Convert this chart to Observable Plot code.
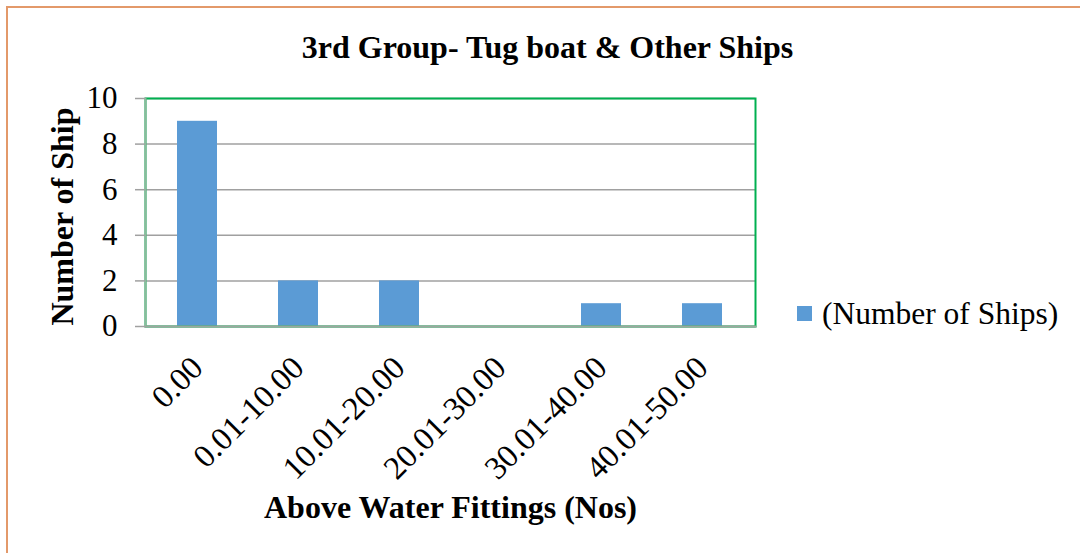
<!DOCTYPE html>
<html>
<head>
<meta charset="utf-8">
<script src="https://cdn.jsdelivr.net/npm/d3@7"></script>
<script src="https://cdn.jsdelivr.net/npm/@observablehq/plot@0.6"></script>
<style>
  html, body { margin: 0; padding: 0; background: #fff; }
  #wrap { position: relative; width: 1080px; height: 553px; overflow: hidden; font-family: "Liberation Serif", "Times New Roman", serif; }
  #border { position: absolute; left: 6px; top: 6px; width: 1200px; height: 700px; border: 2px solid #E3996A; box-sizing: border-box; }
  #chart { position: absolute; left: 0; top: 0; }
  #legend { position: absolute; left: 797px; top: 293px; height: 41px; display: flex; align-items: center; font-size: 31.5px; color: #000; white-space: nowrap; }
  #legend .sw { width: 15px; height: 15px; background: #5B9BD5; margin-right: 10px; }
</style>
</head>
<body>
<div id="wrap">
  <div id="border"></div>
  <div id="chart"></div>
  <div id="legend"><span class="sw"></span><span>(Number of Ships)</span></div>
</div>
<script>
const categories = ["0.00", "0.01-10.00", "10.01-20.00", "20.01-30.00", "30.01-40.00", "40.01-50.00"];
const shipCounts = [9, 2, 2, 0, 1, 1];
const yTicks = [0, 2, 4, 6, 8, 10];
const titleText = "3rd Group- Tug boat & Other Ships";
const xLabel = "Above Water Fittings (Nos)";
const yLabel = "Number of Ship";

const data = categories.map((c, i) => ({cat: c, n: shipCounts[i]}));

const chart = Plot.plot({
  width: 1080,
  height: 553,
  marginLeft: 145,
  marginRight: 325,
  marginTop: 98,
  marginBottom: 227,
  style: {fontFamily: "'Liberation Serif', 'Times New Roman', serif", background: "transparent", color: "#000"},
  x: {domain: categories, paddingInner: 0.6, paddingOuter: 0.3, label: null},
  y: {domain: [0, 10], ticks: yTicks, label: null},
  marks: [
    Plot.gridY(yTicks, {stroke: "#A0A0A0", strokeOpacity: 1, strokeWidth: 1.5}),
    Plot.barY(data, {x: "cat", y: "n", fill: "#5B9BD5"}),
    Plot.frame({stroke: "#00B050", strokeWidth: 2}),
    Plot.frame({anchor: "left", stroke: "#8DB89C", strokeWidth: 2}),
    Plot.frame({anchor: "bottom", stroke: "#9AA89E", strokeWidth: 2}),
    Plot.axisY({ticks: yTicks, tickSize: 10, tickPadding: 18, fontSize: 31, stroke: "#A0A0A0", strokeWidth: 1.5, fill: "#000", label: null}),
    Plot.axisX({tickSize: 0, tickRotate: -45, tickPadding: 36, fontSize: 32.5, fill: "#000", textAnchor: "end", lineAnchor: "middle", label: null}),
    Plot.text([titleText], {frameAnchor: "top", dx: 97, dy: -51, fontSize: 32, fontWeight: "bold", textAnchor: "middle", lineAnchor: "middle", fill: "#000"}),
    Plot.text([xLabel], {frameAnchor: "bottom", dx: 0, dy: 181, fontSize: 32, fontWeight: "bold", textAnchor: "middle", lineAnchor: "middle", fill: "#000"}),
    Plot.text([yLabel], {frameAnchor: "left", dx: -83, dy: 4, rotate: -90, fontSize: 32, fontWeight: "bold", textAnchor: "middle", lineAnchor: "middle", fill: "#000"})
  ]
});
document.getElementById("chart").appendChild(chart);
</script>
</body>
</html>
